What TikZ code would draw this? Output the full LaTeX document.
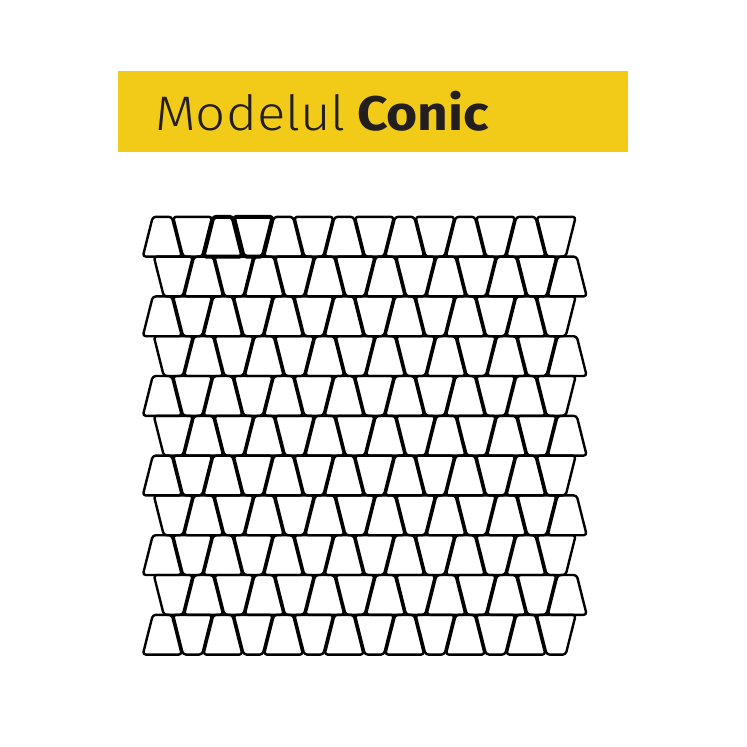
\documentclass[tikz,border=0pt]{standalone}
\usepackage{fontspec}
\setmainfont{Fira Sans}
\newfontfamily\lightfont{Fira Sans Light}
\usepackage{tikz}
\usepackage{graphicx}
\usepackage{color}
\definecolor{bannerYellow}{RGB}{242,203,24}
\definecolor{inkGray}{RGB}{35,31,32}

\begin{document}
\begin{tikzpicture}[x=1pt,y=1pt,yscale=-1,xscale=1,
	tile/.style={draw=black, line width=2.4, rounded corners=3, line join=round},
	tile bold/.style={tile, line width=4}]
				\path (0,0) rectangle (747,747); %set diagram to 747 x 747
				
				%Shape: Rectangle [id:banner] 
				\draw  [draw opacity=0][fill=bannerYellow] (118,71) -- (628,71) -- (628,152.3) -- (118,152.3) -- cycle ;
				
				% Text Node
				\draw (155,130) node (titleLight) [anchor=base west][inner sep=0pt][color=inkGray]  {\fontsize{48.5}{50}\selectfont\scalebox{1.09}[1]{\lightfont Modelul}};
				% Text Node
				\draw (357,130) node (titleBold) [anchor=base west][inner sep=0pt][color=inkGray]  {\fontsize{48.5}{50}\selectfont\scalebox{1.1}[1]{\bfseries Conic}};
				
				%Shape: Trapezoid rows
				\foreach \r in {0,...,10}{
					\pgfmathsetmacro\yt{216.8+39.8*\r}
					\pgfmathsetmacro\yb{\yt+39.8}
					\pgfmathsetmacro\sg{1-2*mod(\r,2)}
					\pgfmathsetmacro\ta{14.5-5*\sg}
					\pgfmathsetmacro\ba{14.5+5*\sg}
					\foreach \k in {0,...,6}{
						\pgfmathsetmacro\ca{162.3+11*mod(\r,2)+60.6*\k}
						\pgfmathsetmacro\cb{\ca+30.3}
						\draw [tile] ({\ca-\ta},\yt) -- ({\ca+\ta},\yt) -- ({\ca+\ba},\yb) -- ({\ca-\ba},\yb) -- cycle ;
						\draw [tile] ({\cb-\ba},\yt) -- ({\cb+\ba},\yt) -- ({\cb+\ta},\yb) -- ({\cb-\ta},\yb) -- cycle ;
					}
				}
				
				%Shape: Trapezoid highlighted pair
				\draw [tile bold] (213.4,216.8) -- (232.4,216.8) -- (242.4,256.6) -- (203.4,256.6) -- cycle ;
				\draw [tile bold] (233.7,216.8) -- (272.7,216.8) -- (262.7,256.6) -- (243.7,256.6) -- cycle ;
				
				\end{tikzpicture}
\end{document}
